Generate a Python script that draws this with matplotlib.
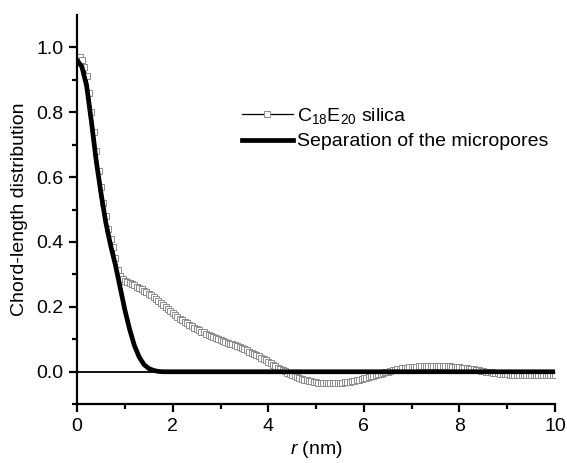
import numpy as np
import matplotlib
matplotlib.use('Agg')
import matplotlib.pyplot as plt

plt.rcParams['font.family'] = ['Liberation Sans', 'DejaVu Sans']
plt.rcParams['mathtext.fontset'] = 'custom'
plt.rcParams['mathtext.rm'] = 'Liberation Sans'
plt.rcParams['mathtext.it'] = 'Liberation Sans:italic'

#%%
#------ Datos ---------------------------
r_sil = np.round(np.arange(0, 201) * 0.05, 2)
cld_sil = [0.970, 0.970, 0.960, 0.940, 0.910, 0.860, 0.800, 0.740, 0.680, 0.620,
           0.570, 0.520, 0.480, 0.440, 0.410, 0.385, 0.350, 0.315, 0.295, 0.285,
           0.280, 0.277, 0.274, 0.270, 0.266, 0.262, 0.258, 0.254, 0.250, 0.246,
           0.241, 0.236, 0.231, 0.225, 0.219, 0.213, 0.207, 0.200, 0.194, 0.188,
           0.182, 0.176, 0.170, 0.164, 0.159, 0.154, 0.149, 0.144, 0.140, 0.136,
           0.132, 0.128, 0.124, 0.121, 0.117, 0.114, 0.111, 0.108, 0.105, 0.102,
           0.099, 0.096, 0.093, 0.090, 0.087, 0.084, 0.081, 0.078, 0.075, 0.072,
           0.069, 0.066, 0.062, 0.059, 0.055, 0.051, 0.047, 0.043, 0.039, 0.035,
           0.031, 0.026, 0.022, 0.017, 0.013, 0.009, 0.005, 0.001, -0.003, -0.006,
           -0.010, -0.013, -0.016, -0.019, -0.022, -0.024, -0.026, -0.028, -0.030, -0.032,
           -0.033, -0.034, -0.035, -0.035, -0.036, -0.036, -0.036, -0.036, -0.036, -0.035,
           -0.035, -0.034, -0.033, -0.032, -0.031, -0.029, -0.028, -0.026, -0.024, -0.022,
           -0.020, -0.018, -0.016, -0.014, -0.012, -0.010, -0.008, -0.006, -0.004, -0.002,
           0.000, 0.002, 0.004, 0.006, 0.008, 0.009, 0.011, 0.012, 0.013, 0.014,
           0.015, 0.016, 0.016, 0.017, 0.017, 0.018, 0.018, 0.018, 0.018, 0.018,
           0.018, 0.018, 0.018, 0.018, 0.018, 0.017, 0.017, 0.016, 0.016, 0.015,
           0.014, 0.013, 0.012, 0.011, 0.010, 0.008, 0.007, 0.006, 0.004, 0.003,
           0.002, 0.000, -0.001, -0.002, -0.003, -0.004, -0.005, -0.006, -0.007, -0.008,
           -0.008, -0.009, -0.009, -0.010, -0.010, -0.010, -0.011, -0.011, -0.011, -0.011,
           -0.011, -0.011, -0.011, -0.011, -0.011, -0.011, -0.011, -0.011, -0.011, -0.010,
           -0.010]

r_mic = [0.0, 0.1, 0.2, 0.3, 0.4, 0.5, 0.6, 0.7, 0.8, 0.9, 1.0,
         1.1, 1.2, 1.3, 1.4, 1.5, 1.6, 1.7, 1.8, 2.0, 10.0]
cld_mic = [0.960, 0.940, 0.880, 0.770, 0.650, 0.550, 0.460, 0.390, 0.330, 0.260, 0.190,
           0.130, 0.080, 0.045, 0.022, 0.010, 0.004, 0.001, 0.0, 0.0, 0.0]

#%%
#------ Ploteo -------
fig = plt.figure(figsize=(5.67, 4.63), dpi=100)
ax = fig.add_axes([0.136, 0.127, 0.843, 0.841])

ax.axhline(0, color='black', lw=1.3, zorder=1)

ax.plot(r_sil, cld_sil, '-', color='black', lw=0.9, marker='s', ms=3.8,
        mfc='white', mec='#8c8c8c', mew=0.7,
        label=r'$\mathregular{C_{18}E_{20}}$ silica', zorder=2)
ax.plot(r_mic, cld_mic, '-', color='black', lw=3.4,
        label='Separation of the micropores', zorder=3)

ax.set_xlim(0, 10)
ax.set_ylim(-0.1, 1.1)
ax.set_xticks([0, 2, 4, 6, 8, 10])
ax.set_xticks([1, 3, 5, 7, 9], minor=True)
ax.set_yticks([0.0, 0.2, 0.4, 0.6, 0.8, 1.0])
ax.set_yticklabels(['0.0', '0.2', '0.4', '0.6', '0.8', '1.0'])
ax.set_yticks([-0.1, 0.1, 0.3, 0.5, 0.7, 0.9], minor=True)

for s in ['top', 'right']:
    ax.spines[s].set_visible(False)
for s in ['left', 'bottom']:
    ax.spines[s].set_linewidth(1.6)

ax.tick_params(which='major', direction='out', length=6, width=1.6, labelsize=14, pad=4)
ax.tick_params(which='minor', direction='out', length=3.5, width=1.6)

ax.set_xlabel(r'$\mathit{r}$ (nm)', fontsize=14, labelpad=3)
ax.set_ylabel('Chord-length distribution', fontsize=14, labelpad=6)

ax.legend(loc='upper left', bbox_to_anchor=(0.345, 0.766), frameon=False,
          fontsize=14, handlelength=2.6, handletextpad=0.25,
          labelspacing=0.35, borderaxespad=0, borderpad=0)

fig.savefig('out.png', dpi=100)
